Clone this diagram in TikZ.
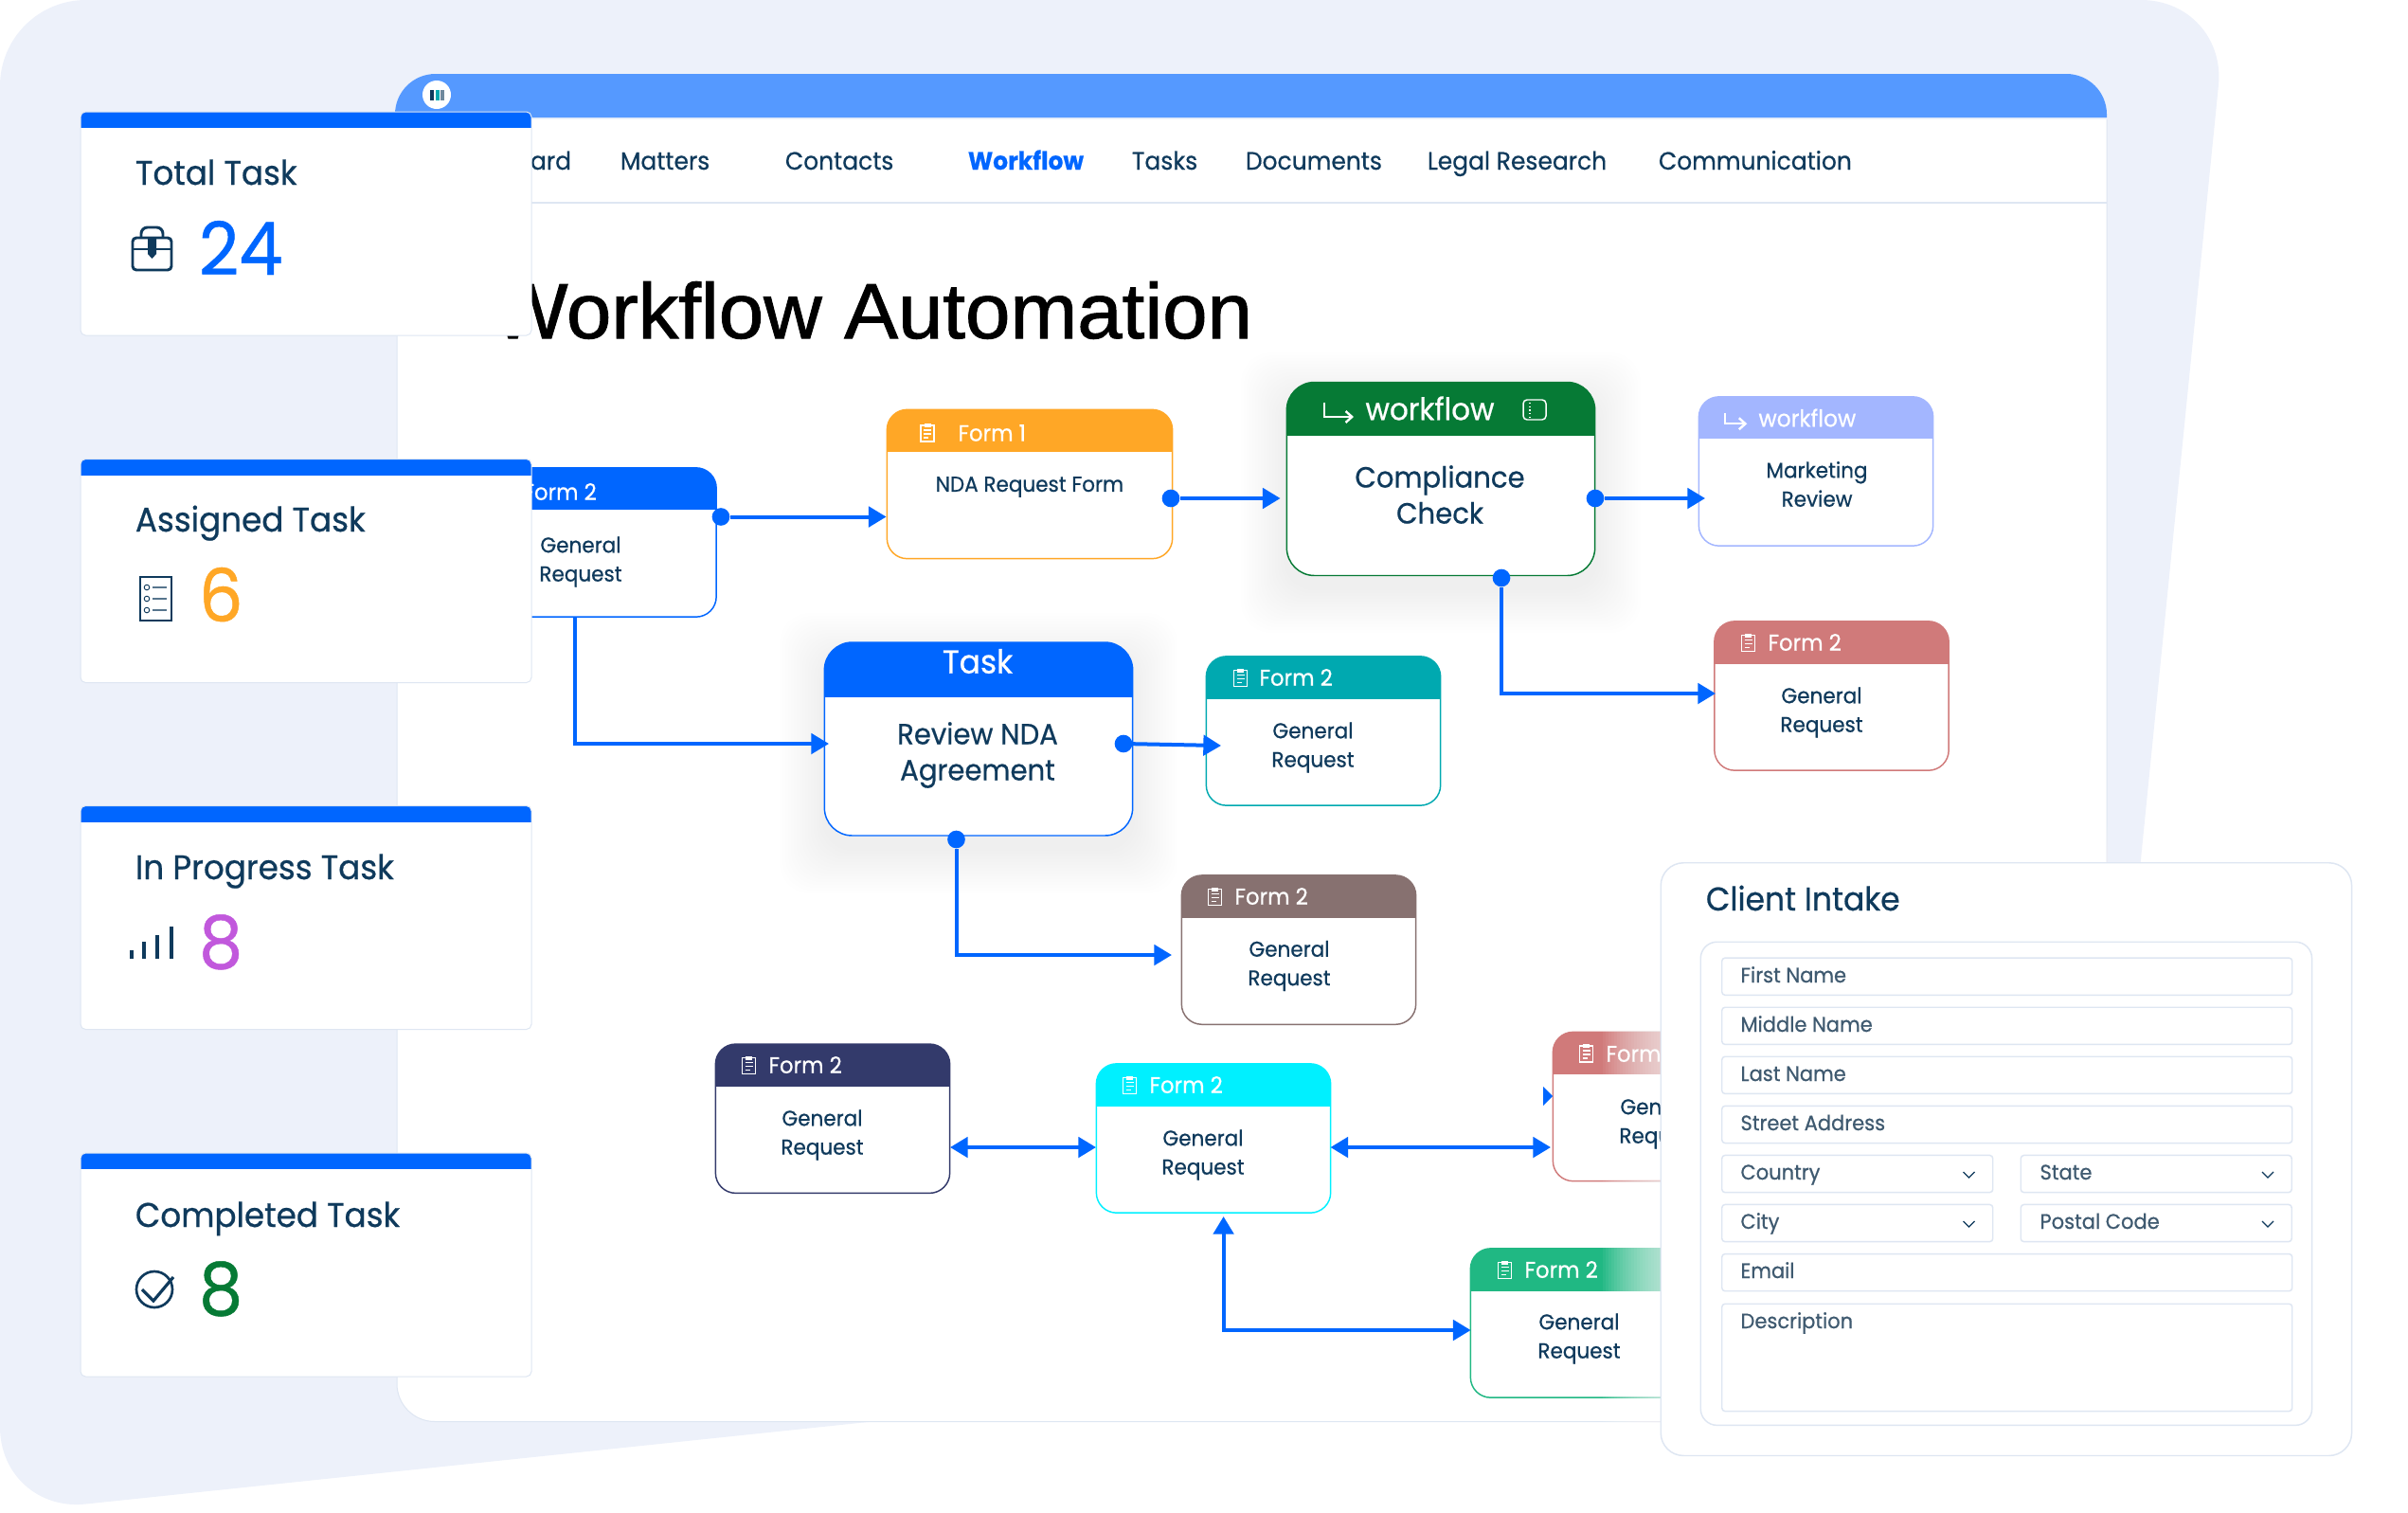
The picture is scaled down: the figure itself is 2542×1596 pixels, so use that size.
\documentclass[tikz,border=0pt]{standalone}
\usepackage{fontspec}
\setmainfont[FakeStretch=0.95,FakeBold=0.6]{Poppins}
\newfontfamily\headfont[FakeStretch=1.03,FakeBold=1.2]{Liberation Sans}
\usetikzlibrary{arrows.meta}

\definecolor{pageblue}{RGB}{237,241,250}
\definecolor{barblue}{RGB}{85,153,255}
\definecolor{flowblue}{RGB}{0,102,255}
\definecolor{ink}{RGB}{15,58,92}
\definecolor{hairline}{RGB}{222,230,242}
\definecolor{amber}{RGB}{255,167,38}
\definecolor{forest}{RGB}{6,122,53}
\definecolor{periwinkle}{RGB}{163,182,255}
\definecolor{rosered}{RGB}{208,122,122}
\definecolor{tealform}{RGB}{0,169,176}
\definecolor{taupe}{RGB}{135,113,112}
\definecolor{navyform}{RGB}{51,58,107}
\definecolor{cyanform}{RGB}{0,240,255}
\definecolor{mintform}{RGB}{32,184,131}
\definecolor{violet}{RGB}{193,88,220}
\definecolor{fieldtext}{RGB}{63,90,112}

\tikzset{
  every picture/.style={line width=0.75pt},
  statcard/.style={draw=hairline,fill=white,rounded corners=4pt,minimum width=357pt,minimum height=177pt,
    path picture={\fill[flowblue,sharp corners] (path picture bounding box.north west) rectangle ([yshift=-12.75pt]path picture bounding box.north east);}},
  formcard/.style n args={2}{draw=#1,fill=white,line width=1.1pt,rounded corners=16pt,minimum width=185.5pt,minimum height=118pt,
    path picture={\fill[#1,sharp corners] (path picture bounding box.north west) rectangle ([yshift=-#2]path picture bounding box.north east);}},
  bigcard/.style n args={2}{formcard={#1}{#2},rounded corners=22pt,minimum width=244pt,minimum height=153pt},
  flowline/.style={draw=flowblue,line width=3pt,-{Triangle[length=14pt,width=16pt]}},
  bothways/.style={flowline,{Triangle[length=14pt,width=16pt]}-{Triangle[length=14pt,width=16pt]}},
  portdot/.style={circle,fill=flowblue,minimum size=14pt,inner sep=0pt},
  navtext/.style={anchor=base west,text=ink,font=\fontsize{19.7}{24}\selectfont},
  cardtitle/.style={anchor=base west,text=ink,font=\fontsize{27}{32}\selectfont},
  cardcount/.style={anchor=base west,font=\fontsize{58}{64}\selectfont},
  headtext/.style={anchor=west,text=white,inner sep=0pt,font=\fontsize{18}{22}\selectfont},
  bodytext/.style={align=center,text=ink,inner sep=0pt,font=\fontsize{17}{22.8}\selectfont},
  bigtext/.style={align=center,text=ink,inner sep=0pt,font=\fontsize{23}{28.5}\selectfont},
  fieldbox/.style={draw=hairline,fill=white,line width=1.1pt,rounded corners=2.5pt,anchor=north west,minimum height=29.4pt,inner sep=0pt},
  fieldtxt/.style={anchor=base west,inner sep=0pt,text=fieldtext,font=\fontsize{16.6}{20}\selectfont},
  clipicon/.pic={
    \draw[white,line width=1pt] (-7,8) rectangle (7,-9);
    \fill[white] (-3.5,10) rectangle (3.5,6);
    \draw[white,line width=.8pt] (-4,3) -- (4,3) (-4,-1) -- (4,-1) (-4,-5) -- (1,-5);
  },
  branchicon/.pic={
    \draw[white,line width=1.8pt,-{Straight Barb[length=5pt,width=9pt]}] (0,8) -- (0,-7) -- (31,-7);
  },
  chevron/.pic={
    \draw[ink,line width=1pt] (-6,3) -- (0,-3) -- (6,3);
  }
}

\newcommand{\softglow}[7]{\foreach \g in {3,6,...,#7}{\fill[#1,opacity=#2,rounded corners=24pt] (#3-\g,#4-\g) rectangle (#5+\g,#6+\g);}}

\begin{document}
\begin{tikzpicture}[x=0.75pt,y=0.75pt,yscale=-1,xscale=1]
\useasboundingbox (0,0) rectangle (2542,1596);

%Shape: Page backdrop
\fill[pageblue,rounded corners=68pt] (0,0) -- (2351,0) -- (2214,1365) -- (0,1597) -- cycle;

%Shape: Browser window
\fill[white,rounded corners=30pt] (419,300) -- (419,1500.5) -- (2224,1500.5) -- (2224,300) -- cycle;
\fill[white] (419,126) rectangle (2224,400);
\draw[hairline,rounded corners=30pt] (419,126) -- (419,1500.5) -- (2224,1500.5) -- (2224,126);
\fill[barblue] (417,124) [rounded corners=32pt] -- (417,78) -- (2224,78) [sharp corners] -- (2224,124) -- cycle;
\fill[white] (461,100) circle (15);
\fill[ink] (454,95) rectangle (458,106);
\fill[tealform] (459.5,95) rectangle (463.5,106);
\fill[ink!60] (465,95) rectangle (469,106);

% Text Node
\node[navtext,anchor=base east] (navDashboard) at (608,179) {Dashboard};
\node[navtext] (navMatters) at (650,179) {Matters};
\node[navtext] (navContacts) at (824,179) {Contacts};
\node[navtext,text=flowblue,font=\bfseries\fontsize{19.7}{24}\selectfont] (navWorkflow) at (1017,179) {Workflow};
\node[navtext] (navTasks) at (1190,179) {Tasks};
\node[navtext] (navDocuments) at (1310,179) {Documents};
\node[navtext] (navLegal) at (1502,179) {Legal Research};
\node[navtext] (navComms) at (1746,179) {Communication};
%Straight Lines
\draw[hairline,line width=1.1pt] (500,214) -- (2224,214);
% Text Node
\node[anchor=base east,text=black,font=\headfont\fontsize{62}{70}\selectfont] (pageTitle) at (1327,357) {Workflow Automation};

%Shape: Soft shadows
\softglow{black}{.003}{1358}{420}{1684}{620}{48}
\softglow{black}{.003}{871}{695}{1195}{895}{48}

%Shape: Form cards
\node[formcard={flowblue}{33pt}] (formBlue) at (632.5,572.5) {};
\node[formcard={amber}{33.5pt},minimum width=226pt] (formAmber) at (1087,511) {};
\node[bigcard={forest}{42pt}] (formCompliance) at (1521,505.5) {};
\node[formcard={periwinkle}{33pt}] (formMarketing) at (1917,497.5) {};
\node[formcard={rosered}{33.5pt}] (formRose) at (1933.5,734.5) {};
\node[formcard={tealform}{33.5pt}] (formTeal) at (1397,771.5) {};
\node[bigcard={flowblue}{43.5pt}] (formTask) at (1033,780) {};
\node[formcard={taupe}{33.5pt}] (formTaupe) at (1371,1002.6) {};
\node[formcard={navyform}{33.5pt}] (formNavy) at (879,1180.7) {};
\node[formcard={cyanform}{33.5pt}] (formCyan) at (1281,1201.5) {};
\node[formcard={rosered}{33.5pt}] (formRoseB) at (1763,1168) {};
\node[formcard={mintform}{33.5pt}] (formMint) at (1676,1396.5) {};

% Text Node
\node[headtext] (headBlue) at (552,519) {Form 2};
\node[bodytext] (textBlue) at (613,593) {General\\Request};
\pic at (979,457) {clipicon};
\node[headtext] (headAmber) at (1011,457) {Form 1};
\node[bodytext] (textAmber) at (1087,514) {NDA Request Form};
\pic at (1398,433) {branchicon};
\node[headtext,font=\fontsize{24.5}{28}\selectfont] (headCompliance) at (1441,431) {workflow};
\draw[white,line width=1.1pt,rounded corners=3pt] (1608,422) rectangle (1632,443);
\draw[white,line width=.8pt,dotted] (1615,425) -- (1615,441);
\node[bigtext] (textCompliance) at (1520,522) {Compliance\\Check};
\pic[scale=.75] at (1821,442) {branchicon};
\node[headtext,font=\fontsize{18.5}{22}\selectfont] (headMarketing) at (1856,441) {workflow};
\node[bodytext] (textMarketing) at (1918,511) {Marketing\\Review};
\pic at (1845.5,678.5) {clipicon};
\node[headtext] (headRose) at (1866,678) {Form 2};
\node[bodytext] (textRose) at (1923,752) {General\\Request};
\pic at (1309.5,715.5) {clipicon};
\node[headtext] (headTeal) at (1329,715) {Form 2};
\node[bodytext] (textTeal) at (1386,789) {General\\Request};
\node[anchor=center,text=white,font=\fontsize{26}{30}\selectfont] (headTask) at (1032,698) {Task};
\node[bigtext] (textTask) at (1032,797) {Review NDA\\Agreement};
\pic at (1282.5,946.5) {clipicon};
\node[headtext] (headTaupe) at (1303,946) {Form 2};
\node[bodytext] (textTaupe) at (1361,1019.5) {General\\Request};
\pic at (790.5,1124.5) {clipicon};
\node[headtext] (headNavy) at (811,1124) {Form 2};
\node[bodytext] (textNavy) at (868,1198) {General\\Request};
\pic at (1192.5,1145.5) {clipicon};
\node[headtext] (headCyan) at (1213,1145) {Form 2};
\node[bodytext] (textCyan) at (1270,1219) {General\\Request};
\pic at (1674.5,1112) {clipicon};
\node[headtext] (headRoseB) at (1695,1112) {Form 2};
\pic at (1588.5,1340.5) {clipicon};
\node[headtext] (headMint) at (1609,1340) {Form 2};

%Shape: Connector ports
\node[portdot] (dotBlue) at (761,545.5) {};
\node[portdot] (dotAmber) at (1236,526) {};
\node[portdot] (dotCompliance) at (1684,526) {};
\node[portdot] (dotComplianceB) at (1585,610) {};
\node[portdot] (dotTask) at (1186,785) {};
\node[portdot] (dotTaskB) at (1009.5,886) {};
\coordinate (blueOut) at (607,651);
\coordinate (taskIn) at (875,785);
\coordinate (tealIn) at (1289,787);
\coordinate (taupeIn) at (1237,1008);
\coordinate (marketingIn) at (1800,526);
\coordinate (roseIn) at (1811,732);
\coordinate (navyPort) at (1003,1211);
\coordinate (cyanLeft) at (1157,1211);
\coordinate (cyanRight) at (1404.5,1211);
\coordinate (roseBPort) at (1637,1211);
\coordinate (cyanBottom) at (1291.6,1284);
\coordinate (mintIn) at (1552.6,1404);

%Straight Lines
\draw[flowline] (dotBlue) -- (formAmber.west |- dotBlue);
\draw[flowline,shorten >=4.5pt] (dotAmber) -- (formCompliance.west |- dotAmber);
\draw[flowline] (dotCompliance) -- (marketingIn);
\draw[flowline] (dotComplianceB) |- (roseIn);
\draw[flowline] (blueOut) |- (taskIn);
\draw[flowline] (dotTask) -- (tealIn);
\draw[flowline] (dotTaskB) |- (taupeIn);
\draw[bothways] (navyPort) -- (cyanLeft);
\draw[bothways] (cyanRight) -- (roseBPort);
\draw[bothways] (cyanBottom) |- (mintIn);
%Shape: Stray tip
\fill[flowblue] (1629,1147) -- (1639,1157) -- (1629,1167) -- cycle;

%Shape: Stat cards
\node[statcard] (statTotal) at (323,236) {};
\node[statcard] (statAssigned) at (323,602.5) {};
\node[statcard] (statProgress) at (323,968.5) {};
\node[statcard] (statCompleted) at (323,1335) {};

% Text Node
\node[cardtitle] (titleTotal) at (138,195) {Total Task};
\node[cardcount,text=flowblue] (countTotal) at (205,290) {24};
\node[cardtitle] (titleAssigned) at (138,561) {Assigned Task};
\node[cardcount,text=amber] (countAssigned) at (205,656) {6};
\node[cardtitle] (titleProgress) at (138,928) {In Progress Task};
\node[cardcount,text=violet] (countProgress) at (205,1022) {8};
\node[cardtitle] (titleCompleted) at (138,1295) {Completed Task};
\node[cardcount,text=forest] (countCompleted) at (205,1388) {8};

%Shape: Briefcase
\draw[ink,line width=2.2pt,rounded corners=3pt] (140,251) rectangle (181,285);
\draw[ink,line width=2.2pt,rounded corners=5pt] (149,251) -- (149,240) -- (172,240) -- (172,251);
\draw[ink,line width=2.2pt] (140,263) -- (181,263);
\fill[ink] (156,251) -- (165,251) -- (165,268) -- (160.5,273) -- (156,268) -- cycle;
%Shape: Checklist
\draw[ink,line width=2pt] (148,609) rectangle (181,655);
\foreach \rowy in {620,632,644}{
  \draw[ink,line width=.7pt] (155,\rowy) circle (2.8);
  \draw[ink!70,line width=1pt] (161,\rowy) -- (176,\rowy);
}
%Shape: Signal bars
\foreach \barx/\bary in {139/1003,152/994,166/987,181/978}{
  \draw[ink,line width=2.4pt] (\barx,1012) -- (\barx,\bary);
}
%Shape: Tick
\draw[ink,line width=2pt] (163,1361) circle (19);
\draw[ink,line width=2.4pt] (150,1361) -- (162,1373) -- (183,1348);

%Shape: Client intake panel
\softglow{white}{.05}{1752}{930}{2482}{1537}{60}
% Text Node
\node[bodytext] (textRoseB) at (1753,1186) {General\\Request};
\node[bodytext] (textMint) at (1667,1413) {General\\Request};
\node[draw=hairline,fill=white,line width=1.1pt,rounded corners=18pt,anchor=north west,minimum width=547pt,minimum height=469.3pt] (panelClient) at (1752.5,910) {};
\node[draw=hairline,fill=white,line width=1.1pt,rounded corners=13pt,anchor=north west,minimum width=484pt,minimum height=382.6pt] (panelInner) at (1794.5,993.5) {};
% Text Node
\node[anchor=base west,text=ink,font=\fontsize{26}{30}\selectfont] (titleClient) at (1796,961) {Client Intake};

%Shape: Form fields
\node[fieldbox,minimum width=451.5pt] (fieldFirst) at (1817,1010.4) {};
\node[fieldbox,minimum width=451.5pt] (fieldMiddle) at (1817,1062.5) {};
\node[fieldbox,minimum width=451.5pt] (fieldLast) at (1817,1114.5) {};
\node[fieldbox,minimum width=451.5pt] (fieldStreet) at (1817,1166.6) {};
\node[fieldbox,minimum width=214.5pt] (fieldCountry) at (1817,1218.7) {};
\node[fieldbox,minimum width=214.5pt] (fieldState) at (2132.5,1218.7) {};
\node[fieldbox,minimum width=214.5pt] (fieldCity) at (1817,1270.7) {};
\node[fieldbox,minimum width=214.5pt] (fieldPostal) at (2132.5,1270.7) {};
\node[fieldbox,minimum width=451.5pt] (fieldEmail) at (1817,1322.8) {};
\node[fieldbox,minimum width=451.5pt,minimum height=85pt] (fieldDescription) at (1817,1375.5) {};
% Text Node
\node[fieldtxt] (labelFirst) at (1837,1037) {First Name};
\node[fieldtxt] (labelMiddle) at (1837,1089) {Middle Name};
\node[fieldtxt] (labelLast) at (1837,1141) {Last Name};
\node[fieldtxt] (labelStreet) at (1837,1193) {Street Address};
\node[fieldtxt] (labelCountry) at (1837,1245) {Country};
\node[fieldtxt] (labelState) at (2153,1245) {State};
\node[fieldtxt] (labelCity) at (1837,1297) {City};
\node[fieldtxt] (labelPostal) at (2153,1297) {Postal Code};
\node[fieldtxt] (labelEmail) at (1837,1349) {Email};
\node[fieldtxt] (labelDescription) at (1837,1402) {Description};
\pic at (2078.5,1240) {chevron};
\pic at (2394,1240) {chevron};
\pic at (2078.5,1292) {chevron};
\pic at (2394,1292) {chevron};

\end{tikzpicture}
\end{document}
